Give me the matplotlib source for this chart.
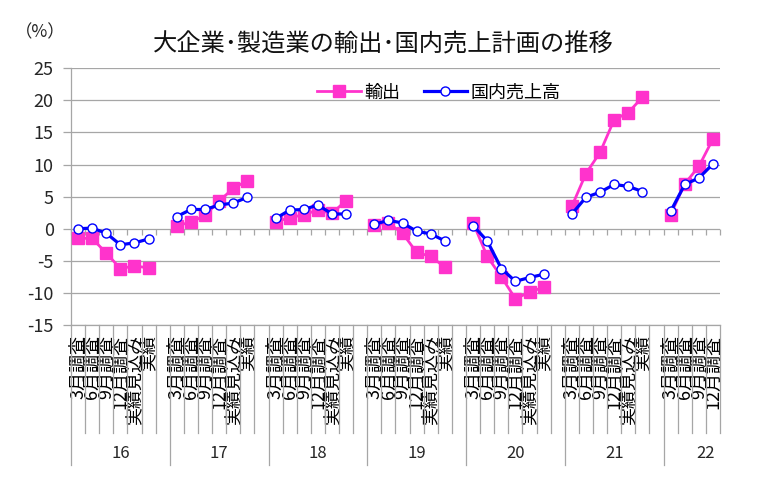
import numpy as np
import matplotlib.pyplot as plt
from matplotlib.markers import TICKDOWN

plt.rcParams['font.family'] = ['Noto Sans CJK JP', 'DejaVu Sans']
plt.rcParams['axes.unicode_minus'] = False

# fiscal years (group labels) and survey stages (slot labels)
years = ['16', '17', '18', '19', '20', '21', '22']
stages = ['3月調査', '6月調査', '9月調査', '12月調査', '実績見込み', '実績']

# 輸出 (%)
exp_16 = [-1.5, -1.5, -3.8, -6.2, -5.8, -6.1]
exp_17 = [0.5, 1.0, 2.1, 4.3, 6.3, 7.5]
exp_18 = [1.1, 1.7, 2.2, 2.9, 2.4, 4.4]
exp_19 = [0.6, 0.9, -0.7, -3.7, -4.3, -6.0]
exp_20 = [0.9, -4.3, -7.5, -10.9, -9.9, -9.1]
exp_21 = [3.5, 8.6, 11.9, 17.0, 18.1, 20.5]
exp_22 = [2.2, 7.0, 9.7, 14.0]

# 国内売上高 (%)
dom_16 = [0.0, 0.1, -0.7, -2.5, -2.2, -1.6]
dom_17 = [1.9, 3.0, 3.0, 3.7, 4.0, 4.9]
dom_18 = [1.6, 2.9, 3.0, 3.7, 2.3, 2.3]
dom_19 = [0.7, 1.3, 0.9, -0.4, -0.8, -1.9]
dom_20 = [0.5, -1.9, -6.2, -8.2, -7.6, -7.1]
dom_21 = [2.3, 4.9, 5.7, 6.9, 6.6, 5.8]
dom_22 = [2.7, 6.9, 7.9, 10.1]

exp_groups = [exp_16, exp_17, exp_18, exp_19, exp_20, exp_21, exp_22]
dom_groups = [dom_16, dom_17, dom_18, dom_19, dom_20, dom_21, dom_22]

# each year takes 7 slots (6 stages + a blank one), last year only 4
gsize = 7
nslot = gsize * (len(years) - 1) + len(exp_22)
slots = np.arange(nslot)
exp = np.full(nslot, np.nan)
dom = np.full(nslot, np.nan)
labels = [''] * nslot
for g in range(len(years)):
    for k in range(len(exp_groups[g])):
        i = g * gsize + k
        exp[i] = exp_groups[g][k]
        dom[i] = dom_groups[g][k]
        labels[i] = stages[k]

pink = '#ff33cc'
blue = '#0000ff'
grid_c = '#a6a6a6'

fig = plt.figure(figsize=(7.57, 4.91), dpi=100)
ax = fig.add_axes([71 / 757, 1 - 325 / 491, 649 / 757, 256.7 / 491])

ax.set_xlim(-0.5, nslot - 0.5)
ax.set_ylim(-15, 25)
ax.set_yticks(range(-15, 26, 5))
ax.grid(axis='y', color=grid_c, lw=0.9)
ax.set_axisbelow(True)
for s in ['top', 'right']:
    ax.spines[s].set_visible(False)
for s in ['left', 'bottom']:
    ax.spines[s].set_color(grid_c)
    ax.spines[s].set_linewidth(0.9)
ax.tick_params(axis='y', length=5.5, color=grid_c, width=0.9, labelsize=13,
               labelcolor='#262626', pad=7)

ax.set_xticks(slots)
ax.set_xticklabels(labels, rotation=90, fontsize=13, va='top', ha='center')
ax.tick_params(axis='x', length=0, pad=7)

# category tick marks on the zero line
bounds = np.arange(nslot + 1) - 0.5
ax.plot(bounds, np.zeros(len(bounds)), ls='none', marker=TICKDOWN, ms=4,
        mec=grid_c, mew=0.9, clip_on=False, zorder=2)

# label table lines under the plot
trans = ax.get_xaxis_transform()
for b in bounds:
    idx = int(b + 0.5)
    if idx % gsize == 0 and idx < nslot:
        low = -0.545
    else:
        low = -0.42
    ax.plot([b, b], [0, low], transform=trans, color=grid_c, lw=0.9,
            clip_on=False)

for g, yr in enumerate(years):
    n = len(exp_groups[g])
    if g < len(years) - 1:
        cx = g * gsize + (gsize - 1) / 2
    else:
        cx = g * gsize + n - 1.5
    ax.text(cx, -0.5, yr, transform=trans, ha='center', va='center',
            fontsize=12, color='#262626')

ax.plot(slots, exp, color=pink, lw=2, marker='s', ms=8.5, mec=pink,
        label='輸出', zorder=3)
ax.plot(slots, dom, color=blue, lw=2.3, marker='o', ms=6.5, mfc='white',
        mec=blue, mew=1, label='国内売上高', zorder=4)

ax.legend(loc='center', bbox_to_anchor=(0.567, 0.905), ncol=2, frameon=False,
          fontsize=13, handlelength=2.4, handletextpad=0.2, columnspacing=1.3)

fig.text(383 / 757, 1 - 45 / 491, '大企業･製造業の輸出･国内売上計画の推移',
         ha='center', va='center', fontsize=17.5, color='#111111')
fig.text(40 / 757, 1 - 32 / 491, '（%）', ha='center', va='center',
         fontsize=12.5, color='#262626')

fig.savefig('out.png', dpi=100)
